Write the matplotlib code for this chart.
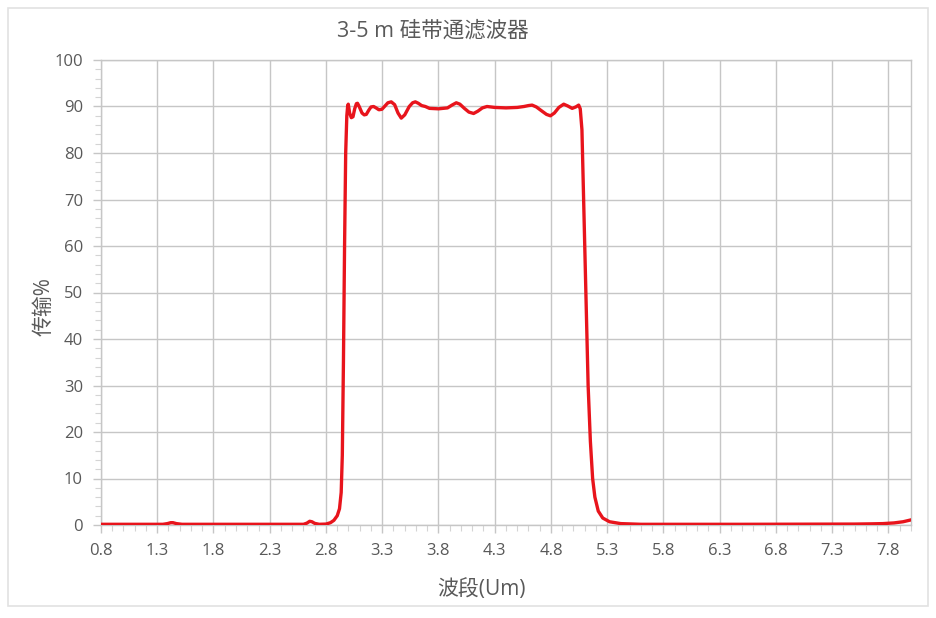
import numpy as np
import matplotlib
matplotlib.use("Agg")
from matplotlib import pyplot as plt
from matplotlib.ticker import MultipleLocator
from matplotlib.patches import Rectangle

plt.rcParams['font.family'] = ['Open Sans', 'Noto Sans CJK SC', 'DejaVu Sans']

TITLE = '3-5 m 硅带通滤波器'
X_LABEL = '波段(Um)'
Y_LABEL = '传输%'

# wavelength (um) / transmission (%)
wavelength = [0.8, 1.35, 1.39, 1.42, 1.44, 1.47, 1.52, 2.6, 2.63, 2.655, 2.675, 2.7, 2.74,
              2.8, 2.84, 2.87, 2.9, 2.92, 2.935, 2.945, 2.955, 2.965, 2.975, 2.985, 2.993,
              2.998, 3.01, 3.025, 3.04, 3.055, 3.07, 3.08, 3.095, 3.12, 3.14, 3.158, 3.18,
              3.2, 3.223, 3.245, 3.27, 3.297, 3.32, 3.35, 3.38, 3.41, 3.44, 3.469, 3.5,
              3.54, 3.57, 3.594, 3.62, 3.65, 3.683, 3.72, 3.8, 3.88, 3.92, 3.958, 3.99,
              4.03, 4.07, 4.112, 4.15, 4.19, 4.231, 4.3, 4.4, 4.5, 4.56, 4.6, 4.632, 4.67,
              4.72, 4.76, 4.795, 4.83, 4.87, 4.913, 4.95, 4.988, 5.02, 5.046, 5.06, 5.075,
              5.09, 5.11, 5.13, 5.15, 5.17, 5.19, 5.22, 5.26, 5.32, 5.42, 5.6, 6.5, 7.5,
              7.65, 7.75, 7.85, 7.93, 8.0]
transmission = [0.15, 0.15, 0.3, 0.5, 0.5, 0.3, 0.15, 0.15, 0.4, 0.8, 0.7, 0.35, 0.15,
                0.2, 0.5, 1.0, 2.0, 3.5, 7.0, 15, 35, 60, 80, 88, 90.2,
                90.5, 88.6, 87.6, 87.8, 89.5, 90.6, 90.7, 90.0, 88.6, 88.2, 88.3, 89.2,
                89.9, 90.0, 89.7, 89.3, 89.4, 90.0, 90.8, 91.0, 90.4, 88.6, 87.5, 88.2,
                90.0, 90.8, 91.0, 90.7, 90.2, 90.0, 89.6, 89.5, 89.7, 90.3, 90.8, 90.5,
                89.6, 88.8, 88.5, 89.0, 89.7, 90.0, 89.8, 89.7, 89.8, 90.0, 90.2, 90.3, 89.9,
                89.0, 88.3, 88.0, 88.6, 89.8, 90.5, 90.1, 89.6, 89.9, 90.3, 89.5, 85,
                70, 50, 30, 18, 10, 6, 3.0, 1.5, 0.7, 0.3, 0.15, 0.15, 0.2,
                0.25, 0.3, 0.45, 0.7, 1.1]

x_ticks = [0.8, 1.3, 1.8, 2.3, 2.8, 3.3, 3.8, 4.3, 4.8, 5.3, 5.8, 6.3, 6.8, 7.3, 7.8]
y_ticks = list(range(0, 101, 10))

grey = '#595959'
grid_grey = '#c6c6c6'
W, H = 937, 618

fig = plt.figure(figsize=(W / 100, H / 100), dpi=100)
ax = fig.add_axes([101 / W, 1 - 525 / H, (911 - 101) / W, (525 - 60) / H])

ax.plot(wavelength, transmission, color='#e8141c', lw=2.4, solid_joinstyle='round', zorder=3)

ax.set_xlim(0.8, 8.0)
ax.set_ylim(0, 100)
ax.set_xticks(x_ticks)
ax.set_xticklabels([f'{t:.1f}' for t in x_ticks])
ax.set_yticks(y_ticks)
ax.xaxis.set_minor_locator(MultipleLocator(0.1))
ax.yaxis.set_minor_locator(MultipleLocator(2))

ax.grid(True, which='major', color=grid_grey, lw=1.0, zorder=0)
for s in ax.spines.values():
    s.set_color(grid_grey)
    s.set_linewidth(1.0)

ax.tick_params(which='major', direction='out', length=6, width=1, color=grid_grey,
               labelcolor=grey, labelsize=12, pad=7)
ax.tick_params(which='minor', direction='out', length=4, width=0.8, color='#d4d4d4')

fig.text(433 / W, 1 - 31 / H, TITLE, ha='center', va='center', fontsize=15.5, color=grey)
fig.text(481 / W, 1 - 589 / H, X_LABEL, ha='center', va='center', fontsize=15, color=grey)
fig.text(44 / W, 1 - 307 / H, Y_LABEL, ha='center', va='center', rotation=90,
         fontsize=15, color=grey)

# light frame around the picture
fig.patches.append(Rectangle((8 / W, 1 - 606 / H), (928 - 8) / W, (606 - 8) / H,
                             transform=fig.transFigure, fill=False, edgecolor='#e2e2e2', lw=1.2))

fig.savefig('out.png', dpi=100, facecolor='white')
